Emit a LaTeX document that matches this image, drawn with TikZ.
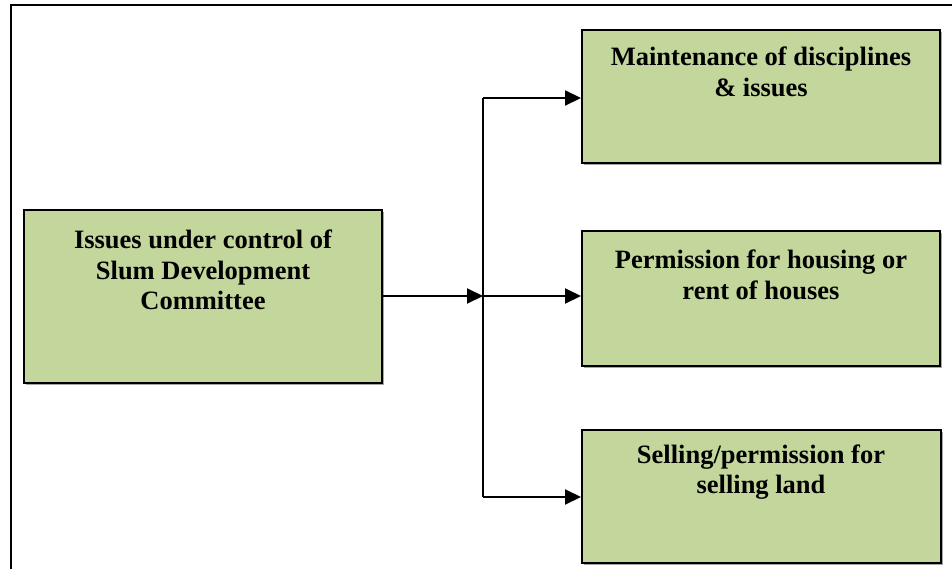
\documentclass[tikz,border=0pt]{standalone}
\usepackage{fontspec}
\setmainfont{Liberation Serif}
\usetikzlibrary{arrows.meta,calc}
\definecolor{boxgreen}{HTML}{C3D69B}
\tikzset{
  greenbox/.style={draw=black, line width=2pt, fill=boxgreen, inner sep=0pt},
  boxtext/.style={align=center, font=\fontsize{26.5}{30.5}\selectfont\bfseries, inner sep=0pt},
  conn/.style={line width=2pt, -{Triangle[length=16pt,width=15pt]}},
  plainline/.style={line width=2pt}
}
\begin{document}
\begin{tikzpicture}[x=1pt,y=-1pt]
\useasboundingbox (0,0) rectangle (952,569);
% frame
\draw[line width=2pt] (11,569) -- (11,5) -- (952,5);
% shadows
\fill[gray!70] (26,212) rectangle (384,385);
\fill[gray!70] (584,32) rectangle (942,165);
\fill[gray!70] (584,233) rectangle (942,368);
\fill[gray!70] (584,432) rectangle (943,565);
% boxes
\node[greenbox, minimum width=358pt, minimum height=173pt] (L) at (203,296.5) {};
\node[greenbox, minimum width=358pt, minimum height=133pt] (B1) at (761,96.5) {};
\node[greenbox, minimum width=358pt, minimum height=135pt] (B2) at (761,298.5) {};
\node[greenbox, minimum width=359pt, minimum height=133pt] (B3) at (761.5,496.5) {};
% texts
\node[boxtext] (Lt) at (203,270) {Issues under control of\\Slum Development\\Committee};
\node[boxtext] (B1t) at (761,72) {Maintenance of disciplines\\\& issues};
\node[boxtext] (B2t) at (761,275) {Permission for housing or\\rent of houses};
\node[boxtext] (B3t) at (761,472) {Selling/permission for\\selling land};
% connectors
\coordinate (J) at (483,296);
\coordinate (Jt) at (483,98);
\coordinate (Jb) at (483,497);
\draw[conn] (L.east |- J) -- (J);
\draw[conn] (J) -- (J -| B2.west);
\draw[plainline] (Jt) -- (Jb);
\draw[conn] (Jt) -- (Jt -| B1.west);
\draw[conn] (Jb) -- (Jb -| B3.west);
\end{tikzpicture}
\end{document}
